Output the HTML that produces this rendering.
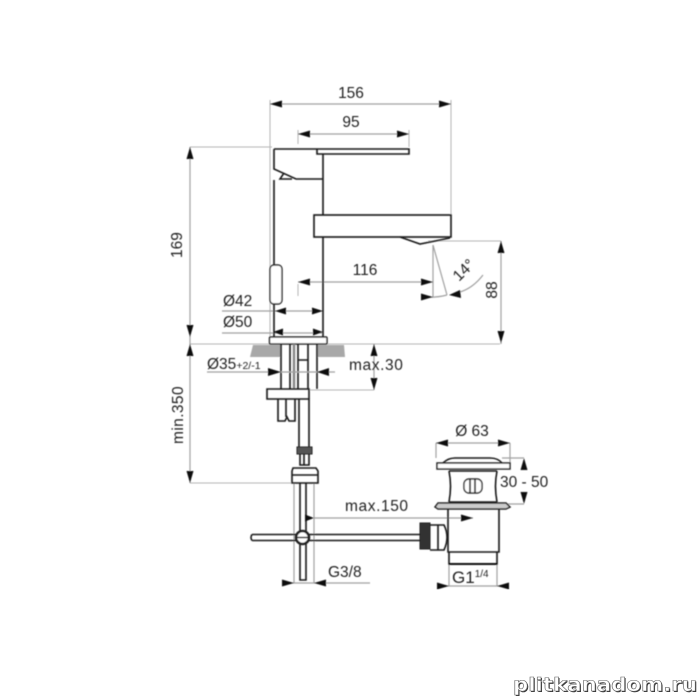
<!DOCTYPE html>
<html><head><meta charset="utf-8"><style>
html,body{margin:0;padding:0;background:#fff}
svg{display:block}
text{font-family:"Liberation Sans",sans-serif;font-size:15.5px;fill:#222}
.t{stroke:#1a1a1a;fill:none;stroke-width:1.6}
.e{stroke:#b5b5b5;fill:none;stroke-width:1}
.g{stroke:#a0a0a0;fill:none;stroke-width:1.2}
.a{fill:#111;stroke:none}
</style></head><body>
<svg width="700" height="700" viewBox="0 0 700 700" xmlns="http://www.w3.org/2000/svg">
<defs><filter id="b" x="0" y="0" width="100%" height="100%"><feGaussianBlur stdDeviation="0.45"/></filter></defs>
<rect width="700" height="700" fill="#fff"/>
<g filter="url(#b)">

<!-- extension / dimension lines -->
<path class="e" d="M270 100V337M451 100V215M298 130V144M409 130V147M298 284V296"/>
<path class="e" d="M190 147H272M190 344H500M190 483H292M428 241H501M309 390H374"/>
<path class="g" d="M270 104H451M298 134H409M190 147V344M190 344V483M501 241V344M298 282H433M222 311H323M222 333H323M374 344V390M294 483V583M314 483V583M283 583H370M314 518H473M436 443H510M436 443V458M510 443V463M502 458H524M502 504H524M438 586H508M449 564V586M497 564V586"/>
<path class="g" d="M433 245V297M433 245L447 295M422 297Q436 298 447 295M460 292Q473 288 483 275"/>

<!-- faucet -->
<path class="t" d="M274 149H409V154H317V149M317 154H323V215M274 149V169L296 179H323M274 180V265M274 304V337M292 179L280 179L284 173M323 237V337"/>
<rect class="t" x="314" y="215" width="137" height="22"/>
<path class="t" d="M400 237L420 244L450 238"/>
<rect x="270" y="265" width="12" height="39" rx="4" fill="#fff" stroke="#222" stroke-width="1.4"/>
<rect x="269.500" y="337" width="57.500" height="7" rx="1" fill="#fff" stroke="#222" stroke-width="1.5"/>

<!-- counter -->
<path fill="#a8a8a8" d="M253 345H281V357H250zM317 345H344L345 357H317z"/>

<!-- shank -->
<path class="t" d="M281 344V389M290 344V389M298 344V389M308 344V389M317 344V389M298 360H308"/>
<path d="M294 344V389" stroke="#888" stroke-width="2.500" fill="none"/>
<path class="g" d="M207 372H335"/>
<path class="t" d="M267 389H309V399H267Z"/>
<path class="t" d="M278 399V421H285L287 417L289 421H295V399M286 399V417"/>
<path class="t" d="M299 399V447M309 399V447"/>
<path d="M297 447H312V454H297Z" fill="#555" stroke="#222"/>
<path class="t" d="M300 454V465H309V454M304 454V465"/>
<path class="t" d="M293 468H316L318 471V483H292V471ZM292 475H318"/>
<path class="t" d="M300 483V580H306V483"/>
<path class="t" d="M252 534.500H420M252 540.500H420M252 534.500Q250 537.500 252 540.500"/>
<circle cx="302.500" cy="537.500" r="6.500" fill="#fff" stroke="#222" stroke-width="2.600"/>
<path d="M297 537.500H308" stroke="#222" stroke-width="1.500"/>

<!-- waste -->
<path class="t" d="M443 463Q448 458 455 458H490Q498 458 502 463"/>
<path d="M437 463H510V469H437Z" fill="#fff" stroke="#222" stroke-width="1.500"/>
<path class="t" d="M449 471H497M449 502H497M449 471Q452 486 449 502M497 471Q494 486 497 502"/>
<rect x="464" y="479" width="18" height="14" rx="5" fill="#fff" stroke="#333" stroke-width="1.400"/>
<path class="t" d="M470 479V493M475 479V493"/>
<path d="M438 503H506L510 507L506 509H438L435 507Z" fill="#ccc" stroke="#222" stroke-width="1.500"/>
<path class="t" d="M448 509V552H499V509M449 552V564H497V552"/>
<path d="M449 564H497" stroke="#111" stroke-width="2"/>
<rect x="420" y="523" width="10" height="26" fill="#333" stroke="#222"/>
<path class="t" d="M430 525H444Q450 537 444 550H430M438 525V550"/>

<!-- arrowheads -->
<path class="a" d="M270 104l12-3.500v7zM451 104l-12-3.500v7zM298 134l12-3.500v7zM409 134l-12-3.500v7z"/>
<path class="a" d="M190 147l-3.500 12h7zM190 337l-3.500-12h7zM190 344l-3.500 12h7zM190 483l-3.500-12h7zM501 241l-3.500 12h7zM501 343l-3.500-12h7z"/>
<path class="a" d="M298 282l12-3.500v7zM433 282l-12-3.500v7zM433 297l-12-3.500v7zM449 295l11-5 1 8z"/>
<path class="a" d="M275 311l11-3.500v7zM323 311l-11-3.500v7zM273 332l10-3.500v7zM323 332l-10-3.500v7z"/>
<path class="a" d="M281 372l-13-4v8zM317 372l12-4v8zM374 344l-3.500 12h7zM374 390l-3.500-12h7z"/>
<path class="a" d="M314 518l-9-3.500v7zM473 518l-12-3.500v7zM294 583l-12-3.500v7zM314 583l12-3.500v7z"/>
<path class="a" d="M436 443l12-3.500v7zM510 443l-12-3.500v7zM524 458l-3.500 12h7zM524 504l-3.500-12h7zM449 586l-12-3.500v7zM497 586l12-3.500v7z"/>

<!-- labels -->
<text x="351" y="98" text-anchor="middle">156</text>
<text x="351" y="127" text-anchor="middle">95</text>
<text transform="translate(182 245) rotate(-90)" text-anchor="middle">169</text>
<text x="365" y="275" text-anchor="middle">116</text>
<text transform="translate(497 290) rotate(-90)" text-anchor="middle">88</text>
<text transform="translate(459 282) rotate(-45)" font-size="14">14°</text>
<text x="223" y="306">Ø42</text>
<text x="223" y="327">Ø50</text>
<text x="207" y="369">Ø35<tspan font-size="10.500">+2/-1</tspan></text>
<text x="349" y="370" style="letter-spacing:.6px">max.30</text>
<text transform="translate(183 415) rotate(-90)" text-anchor="middle" style="letter-spacing:.4px">min.350</text>
<text x="345" y="511" style="letter-spacing:.6px">max.150</text>
<text x="328" y="577">G3/8</text>
<text x="472" y="436" text-anchor="middle">Ø 63</text>
<text x="500" y="487">30 - 50</text>
<text x="452" y="583" style="font-size:17px">G1<tspan font-size="10" dy="-6">1/4</tspan></text>
</g>

<!-- watermark -->
<text x="514" y="692" style="font-family:'DejaVu Sans',sans-serif;font-size:19px;font-weight:bold;fill:#333" textLength="184" lengthAdjust="spacingAndGlyphs">plitkanadom.ru</text>
<text x="513" y="691" style="font-family:'DejaVu Sans',sans-serif;font-size:19px;font-weight:bold;fill:#fff;stroke:#666;stroke-width:.6" textLength="184" lengthAdjust="spacingAndGlyphs">plitkanadom.ru</text>
</svg>
</body></html>
